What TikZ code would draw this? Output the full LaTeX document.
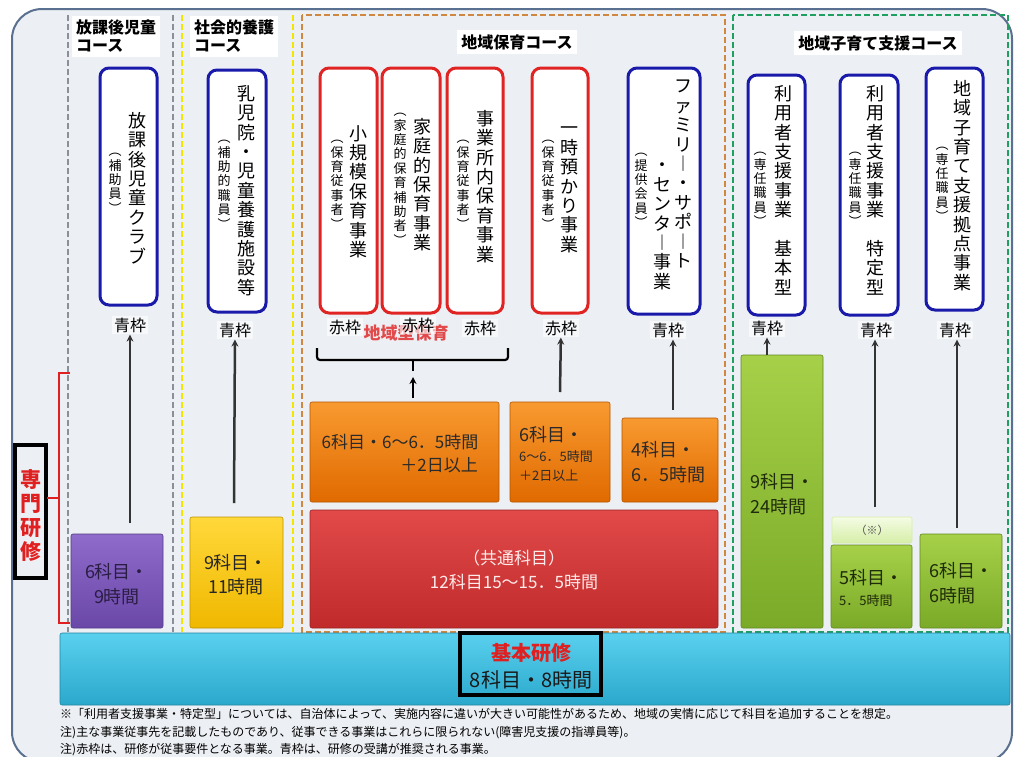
\documentclass[tikz,border=0pt]{standalone}
\usepackage{fontspec}
\newfontfamily\jp{Noto Sans CJK JP}
\usetikzlibrary{arrows.meta,fit}
\definecolor{frameC}{HTML}{5A7090}
\definecolor{bgC}{HTML}{ECEFF3}
\definecolor{boxBlue}{HTML}{1A1AAA}
\definecolor{boxRed}{HTML}{E02424}
\definecolor{colGray}{HTML}{8A8F98}
\definecolor{colYellow}{HTML}{F2E600}
\definecolor{colOrange}{HTML}{D08840}
\definecolor{colGreen}{HTML}{20A060}
\definecolor{purT}{HTML}{8F6BCB}\definecolor{purB}{HTML}{6A48A8}
\definecolor{yelT}{HTML}{FFD83A}\definecolor{yelB}{HTML}{F0B800}
\definecolor{oraT}{HTML}{F89A30}\definecolor{oraB}{HTML}{E06A00}
\definecolor{redT}{HTML}{E24A4A}\definecolor{redB}{HTML}{C02A2A}
\definecolor{greT}{HTML}{A6D048}\definecolor{greB}{HTML}{7AAA28}
\definecolor{notT}{HTML}{F4FBE4}\definecolor{notB}{HTML}{D6EEA8}
\definecolor{cyaT}{HTML}{5AD0EE}\definecolor{cyaB}{HTML}{2AA8CC}
\definecolor{txtDark}{HTML}{2A2A2A}
\definecolor{labRed}{HTML}{E02020}
\begin{document}
\begin{tikzpicture}[x=1pt,y=-1pt,
 vbox/.style={draw, line width=3pt, rounded corners=9pt, fill=white, inner sep=0pt},
 bluebox/.style={vbox, draw=boxBlue},
 redbox/.style={vbox, draw=boxRed},
 vmain/.style={font=\jp\fontsize{18}{19.4}\selectfont, align=center, inner sep=0pt, anchor=north},
 vsub/.style={font=\jp\fontsize{13}{14.4}\selectfont, align=center, inner sep=0pt, anchor=north},
 waku/.style={font=\jp\fontsize{16}{18}\selectfont, fill=white, fill opacity=0.6, text opacity=1, inner sep=2pt},
 course/.style={font=\jp\bfseries\fontsize{16}{18}\selectfont, fill=white, inner sep=4pt},
 bar/.style={draw=#1, line width=0.6pt, rounded corners=2pt, inner sep=0pt},
 conn/.style={draw=black!80, line width=2.5pt, -{Stealth[length=7pt,width=7pt]}},
 big/.style={font=\jp\fontsize{18}{22}\selectfont, inner sep=0pt},
 small/.style={font=\jp\fontsize{13}{15}\selectfont, inner sep=0pt},
 note/.style={font=\jp\fontsize{12}{14}\selectfont, inner sep=0pt, anchor=west},
]
\useasboundingbox (0,0) rectangle (1016,756);
\fill[white] (0,0) rectangle (1016,756);
\draw[frameC, line width=2pt, fill=bgC, rounded corners=30pt] (12,9) rectangle (1012,762);

% column dividers
\draw[colGray, line width=2pt, dash pattern=on 6pt off 3pt] (68,15) -- (68,632) (173,15) -- (173,632);
\draw[colYellow, line width=2.5pt, dash pattern=on 6pt off 3pt] (182,15) -- (182,632) (293,15) -- (293,632);
\draw[colOrange, line width=2pt, dash pattern=on 6pt off 3pt] (302,15) rectangle (725,632);
\draw[colGreen, line width=2pt, dash pattern=on 6pt off 3pt] (733,15) rectangle (1008,632);

% course labels
\node[course, anchor=north west, align=left] (c1) at (72,16) {放課後児童\\コース};
\node[course, anchor=north west, align=left] (c2) at (190,16) {社会的養護\\コース};
\node[course] (c3) at (517,42) {地域保育コース};
\node[course] (c4) at (878,43) {地域子育て支援コース};

% vertical boxes
\node[bluebox, fit={(100,68) (157,305)}] (b1) {};
\node[bluebox, fit={(208,70) (266,312)}] (b2) {};
\node[redbox, fit={(320,68) (377,313)}] (r1) {};
\node[redbox, fit={(382,68) (440,313)}] (r2) {};
\node[redbox, fit={(447,68) (503,313)}] (r3) {};
\node[redbox, fit={(532,68) (588,313)}] (r4) {};
\node[bluebox, fit={(628,68) (700,314)}] (b3) {};
\node[bluebox, fit={(748,75) (805,315)}] (b4) {};
\node[bluebox, fit={(840,75) (898,315)}] (b5) {};
\node[bluebox, fit={(926,68) (983,310)}] (b6) {};

% vertical texts
\node[vmain] (t1) at (137,112) {放\\課\\後\\児\\童\\ク\\ラ\\ブ};
\node[vsub] (s1) at (115,153) {︵\\補\\助\\員\\︶};
\node[vmain] (t2) at (246,85) {乳\\児\\院\\・\\児\\童\\養\\護\\施\\設\\等};
\node[vsub] (s2) at (224,140) {︵\\補\\助\\的\\職\\員\\︶};
\node[vmain] (t3) at (358,125) {小\\規\\模\\保\\育\\事\\業};
\node[vsub] (s3) at (337,140) {︵\\保\\育\\従\\事\\者\\︶};
\node[vmain] (t4) at (422,118) {家\\庭\\的\\保\\育\\事\\業};
\node[vsub] (s4) at (400,113) {︵\\家\\庭\\的\\保\\育\\補\\助\\者\\︶};
\node[vmain] (t5) at (485,110) {事\\業\\所\\内\\保\\育\\事\\業};
\node[vsub] (s5) at (463,140) {︵\\保\\育\\従\\事\\者\\︶};
\node[vmain] (t6) at (569,127) {一\\時\\預\\か\\り\\事\\業};
\node[vsub] (s6) at (548,140) {︵\\保\\育\\従\\事\\者\\︶};
\node[vmain] (t7a) at (683,80) {フ\\ァ\\ミ\\リ\\︱\\・\\サ\\ポ\\︱\\ト};
\node[vmain] (t7b) at (662,163) {・\\セ\\ン\\タ\\︱\\事\\業};
\node[vsub] (s7) at (641,153) {︵\\提\\供\\会\\員\\︶};
\node[vmain] (t8) at (783,85) {利\\用\\者\\支\\援\\事\\業\\\mbox{　}\\基\\本\\型};
\node[vsub] (s8) at (760,152) {︵\\専\\任\\職\\員\\︶};
\node[vmain] (t9) at (875,85) {利\\用\\者\\支\\援\\事\\業\\\mbox{　}\\特\\定\\型};
\node[vsub] (s9) at (855,152) {︵\\専\\任\\職\\員\\︶};
\node[vmain] (t10) at (962,80) {地\\域\\子\\育\\て\\支\\援\\拠\\点\\事\\業};
\node[vsub] (s10) at (942,147) {︵\\専\\任\\職\\員\\︶};

% 地域型保育 label
\node[font=\jp\bfseries\fontsize{17}{19}\selectfont, text=labRed, text opacity=0.8, inner sep=0pt] (kata) at (406,333) {地域型保育};

% waku labels
\node[waku] (l1) at (130,325) {青枠};
\node[waku] (l2) at (235,330) {青枠};
\node[waku] (l3) at (345,327) {赤枠};
\node[waku] (l4) at (418,325) {赤枠};
\node[waku] (l5) at (480,328) {赤枠};
\node[waku] (l6) at (561,328) {赤枠};
\node[waku] (l7) at (668,330) {青枠};
\node[waku] (l8) at (767,328) {青枠};
\node[waku] (l9) at (876,330) {青枠};
\node[waku] (l10) at (955,330) {青枠};

% bars
\node[bar=purB!80!black, top color=purT, bottom color=purB, fit={(71,534) (163,628)}] (pu) {};
\node[bar=yelB!80!black, top color=yelT, bottom color=yelB, fit={(190,517) (283,628)}] (ye) {};
\node[bar=oraB!80!black, top color=oraT, bottom color=oraB, fit={(310,402) (499,502)}] (o1) {};
\node[bar=oraB!80!black, top color=oraT, bottom color=oraB, fit={(510,402) (610,502)}] (o2) {};
\node[bar=oraB!80!black, top color=oraT, bottom color=oraB, fit={(622,418) (718,502)}] (o3) {};
\node[bar=redB!80!black, top color=redT, bottom color=redB, fit={(310,510) (718,628)}] (rd) {};
\node[bar=greB!80!black, top color=greT, bottom color=greB, fit={(741,355) (823,628)}] (g1) {};
\node[bar=notB, top color=notT, bottom color=notB, fit={(832,517) (912,543)}] (nt) {};
\node[bar=greB!80!black, top color=greT, bottom color=greB, fit={(831,545) (912,628)}] (g2) {};
\node[bar=greB!80!black, top color=greT, bottom color=greB, fit={(920,534) (1002,628)}] (g3) {};
\node[bar=cyaB!80!black, top color=cyaT, bottom color=cyaB, fit={(60,633) (1010,705)}] (base) {};

% bar texts
\node[big, text=purB!40!black] (pu1) at (117,572) {6科目・};
\node[big, text=purB!40!black] (pu2) at (117,597) {9時間};
\node[big, text=black!85] (ye1) at (236,563) {9科目・};
\node[big, text=black!85] (ye2) at (236,587) {11時間};
\node[big, text=txtDark, font=\jp\fontsize{17}{20}\selectfont] (o1a) at (400,442) {6科目・6～6．5時間};
\node[big, text=txtDark, font=\jp\fontsize{17}{20}\selectfont, anchor=east] (o1b) at (478,465) {＋2日以上};
\node[big, text=txtDark, anchor=west] (o2a) at (519,435) {6科目・};
\node[small, text=txtDark, anchor=west] (o2b) at (519,457) {6～6．5時間};
\node[small, text=txtDark, anchor=west] (o2c) at (519,476) {＋2日以上};
\node[big, text=txtDark, anchor=west] (o3a) at (631,450) {4科目・};
\node[big, text=txtDark, anchor=west] (o3b) at (631,475) {6．5時間};
\node[big, text=white!92!red, font=\jp\fontsize{17}{20}\selectfont] (rd1) at (514,558) {（共通科目）};
\node[big, text=white!92!red, font=\jp\fontsize{17}{20}\selectfont] (rd2) at (514,582) {12科目15～15．5時間};
\node[big, text=greB!25!black, anchor=west] (g1a) at (750,482) {9科目・};
\node[big, text=greB!25!black, anchor=west] (g1b) at (750,507) {24時間};
\node[font=\jp\fontsize{11}{13}\selectfont, inner sep=0pt, text=black!70] (nt1) at (872,530) {（※）};
\node[big, text=greB!25!black, anchor=west] (g2a) at (839,578) {5科目・};
\node[small, text=greB!25!black, anchor=west] (g2b) at (839,601) {5．5時間};
\node[big, text=greB!25!black, anchor=west] (g3a) at (929,571) {6科目・};
\node[big, text=greB!25!black, anchor=west] (g3b) at (929,596) {6時間};

% base label
\node[draw=black, line width=3.5pt, inner sep=0pt, fit={(460,633) (601,695)}] (kb) {};
\node[font=\jp\bfseries\fontsize{20}{22}\selectfont, text=labRed, inner sep=0pt] (kb1) at (531,653) {基本研修};
\node[font=\jp\fontsize{20}{22}\selectfont, text=black!90, inner sep=0pt] (kb2) at (531,680) {8科目・8時間};

% senmon kenshu
\node[draw=black, line width=3.5pt, inner sep=0pt, fit={(15,445) (46,578)}] (sk) {};
\node[font=\jp\bfseries\fontsize{21}{24}\selectfont, text=labRed, align=center, inner sep=0pt] (sk1) at (30.5,515) {専\\門\\研\\修};
\coordinate (rbT) at (70,373);
\coordinate (rbB) at (70,623);
\coordinate (rbM) at (47,498);
\draw[labRed, line width=2pt] (rbT) -- (59,373) -- (59,623) -- (rbB);
\draw[labRed, line width=2pt] (59,498) -- (rbM);

% black bracket for 地域型保育
\coordinate (kbL) at (317,348);
\coordinate (kbR) at (508,348);
\coordinate (kbS) at (413,371);
\draw[black, line width=2.2pt, rounded corners=3pt] (kbL) -- (317,360) -- (508,360) -- (kbR);
\draw[black, line width=2.2pt] (413,360) -- (kbS);
\coordinate (kbA) at (413,398);
\draw[black, line width=2pt, -{Stealth[length=7pt,width=7pt]}] (kbA) -- (413,377);

% connectors
\coordinate (e1) at (130,523);
\coordinate (e2) at (234,503);
\coordinate (e6) at (560,392);
\coordinate (e7) at (673,410);
\coordinate (e9) at (875,507);
\coordinate (e10) at (957,528);
\draw[conn] (e1) -- (l1);
\draw[conn] (e2) -- (l2);
\draw[conn] (e6) -- (l6);
\draw[conn] (e7) -- (l7.south -| e7);
\draw[conn] (g1.north -| l8) -- (l8);
\draw[conn] (e9) -- (l9.south -| e9);
\draw[conn] (e10) -- (l10.south -| e10);

% notes
\node[note] (n1) at (60,714) {※「利用者支援事業・特定型」については、自治体によって、実施内容に違いが大きい可能性があるため、地域の実情に応じて科目を追加することを想定。};
\node[note] (n2) at (60,733) {注)主な事業従事先を記載したものであり、従事できる事業はこれらに限られない(障害児支援の指導員等)。};
\node[note] (n3) at (60,750) {注)赤枠は、研修が従事要件となる事業。青枠は、研修の受講が推奨される事業。};
\end{tikzpicture}
\end{document}
